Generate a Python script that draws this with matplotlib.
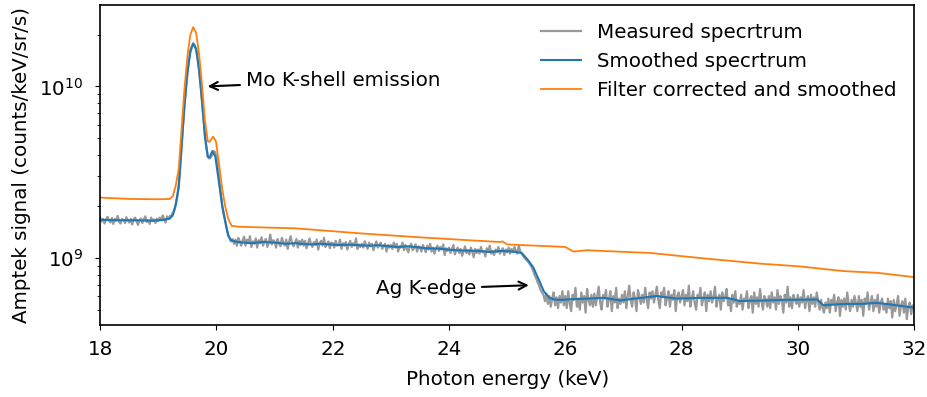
import numpy as np
import matplotlib
matplotlib.use("Agg")
import matplotlib.pyplot as plt

# measured spectrum, 0.025 keV bins starting at 18 keV
# units of 1e8 counts/keV/sr/s, one row = 0.5 keV
measured = [
    17.2, 16.3, 16.9, 15.9, 16.8, 17.4, 16.5, 16.1, 17.1, 15.8, 16.9, 16.5, 17.6, 16.3, 15.9, 16.9, 16.7, 16.0, 17.3, 16.5,
    16.1, 16.9, 15.7, 16.8, 17.2, 16.4, 15.6, 16.6, 17.0, 16.0, 16.8, 17.5, 16.2, 16.6, 15.8, 17.2, 16.4, 16.8, 16.0, 17.0,
    16.4, 17.2, 16.6, 17.7, 16.9, 16.1, 17.5, 16.9, 17.6, 17.6, 18.4, 19.0, 20.6, 22.8, 26.2, 33, 45, 60, 78, 98,
    120, 141, 160, 172, 178, 174, 165, 147, 125, 104, 83, 66, 52, 44, 39, 38, 38.5, 40, 42, 41.5,
    39, 34, 28, 23.5, 20, 18, 16.4, 14.8, 13.6, 13.0, 12.5, 12.9, 12.1, 12.8, 11.8, 13.1, 12.5, 11.8, 12.7, 13.3,
    11.8, 12.8, 12.2, 13.4, 11.6, 12.5, 12.1, 13.0, 11.5, 12.7, 12.2, 13.2, 11.8, 12.5, 12.9, 11.6, 12.3, 13.7, 12.0, 12.7,
    12.5, 11.5, 12.9, 12.2, 11.7, 13.1, 12.3, 11.8, 12.8, 11.3, 12.5, 13.4, 12.2, 11.7, 12.3, 12.9, 11.5, 12.6, 11.9, 12.8,
    11.8, 12.6, 11.4, 12.2, 13.0, 12.1, 11.6, 12.4, 11.9, 12.8, 11.2, 12.2, 12.6, 11.8, 13.1, 11.6, 12.0, 12.5, 11.4, 12.3,
    12.2, 11.5, 12.6, 11.8, 11.9, 12.8, 11.3, 12.2, 11.8, 12.4, 11.2, 12.0, 12.6, 11.6, 12.2, 11.8, 13.0, 11.3, 12.0, 11.6,
    12.1, 11.5, 12.5, 11.9, 11.3, 12.3, 11.7, 12.1, 11.1, 11.9, 12.5, 11.5, 11.9, 12.3, 11.3, 11.7, 12.1, 10.9, 11.9, 11.5,
    11.9, 11.3, 12.3, 11.5, 12.1, 10.9, 11.7, 11.5, 12.3, 11.1, 11.9, 11.3, 10.8, 11.7, 12.1, 11.1, 11.5, 12.0, 10.9, 11.7,
    11.6, 10.9, 11.9, 11.4, 10.8, 11.8, 11.2, 12.1, 10.9, 11.5, 10.6, 11.4, 11.8, 11.0, 11.6, 11.2, 12.0, 10.4, 11.4, 11.0,
    11.5, 10.7, 11.3, 11.9, 10.5, 11.1, 11.5, 10.7, 11.3, 10.3, 10.9, 11.7, 10.7, 11.1, 10.5, 11.5, 10.9, 10.1, 11.3, 10.7,
    11.2, 10.6, 11.6, 10.8, 11.0, 10.2, 11.4, 10.8, 11.8, 10.6, 11.0, 10.4, 11.2, 10.8, 11.6, 10.6, 11.0, 11.4, 10.4, 11.2,
    10.8, 11.5, 10.6, 11.3, 10.8, 11.6, 11.0, 10.6, 11.8, 10.9, 10.6, 10.3, 10.0, 9.8, 9.6, 9.4, 9.1, 8.8, 8.4, 7.9,
    7.6, 7.2, 6.9, 6.5, 6.3, 6.1, 5.6, 6.2, 5.4, 6.0, 5.2, 5.8, 6.3, 5.3, 5.9, 5.1, 6.0, 5.5, 6.4, 5.3,
    6.0, 5.1, 6.4, 5.5, 4.9, 6.1, 5.7, 6.7, 5.2, 5.8, 5.0, 6.3, 5.5, 6.0, 4.8, 6.6, 5.7, 5.3, 6.1, 5.2,
    6.2, 5.3, 6.0, 6.8, 5.5, 5.0, 6.1, 5.8, 6.5, 5.2, 5.7, 6.4, 4.9, 6.0, 5.5, 6.7, 5.1, 5.8, 5.4, 6.1,
    5.5, 6.4, 5.1, 6.0, 6.9, 5.7, 5.2, 6.3, 5.8, 4.9, 6.5, 6.0, 5.4, 6.1, 5.5, 6.7, 5.7, 5.1, 6.3, 5.8,
    6.4, 5.5, 6.1, 6.8, 5.7, 5.1, 6.3, 5.9, 6.7, 5.3, 5.8, 6.4, 5.2, 6.1, 5.7, 6.5, 4.9, 6.0, 6.3, 5.5,
    6.0, 6.5, 5.3, 6.1, 5.6, 6.9, 5.2, 5.8, 6.4, 5.5, 5.0, 6.1, 5.9, 6.7, 5.3, 5.8, 6.3, 4.9, 6.1, 5.6,
    6.4, 5.5, 5.9, 6.8, 5.2, 5.8, 6.1, 5.0, 6.3, 5.6, 5.9, 6.6, 5.3, 5.8, 4.9, 6.1, 5.5, 6.4, 5.2, 5.6,
    5.4, 6.1, 5.0, 5.8, 5.6, 6.4, 5.1, 5.7, 6.0, 4.8, 6.3, 5.4, 5.9, 5.2, 6.6, 5.6, 5.0, 6.0, 5.7, 5.2,
    6.0, 5.1, 6.3, 5.5, 5.9, 5.0, 6.5, 5.4, 6.0, 5.7, 4.8, 6.1, 5.5, 6.8, 5.2, 5.9, 5.1, 6.1, 5.7, 5.4,
    6.1, 5.2, 5.9, 5.5, 6.5, 5.1, 5.7, 6.0, 4.9, 6.1, 5.4, 5.9, 5.2, 6.3, 5.6, 5.0, 5.7, 5.1, 4.8, 5.5,
    5.1, 5.8, 4.8, 5.7, 5.4, 6.1, 4.9, 5.5, 5.9, 4.6, 5.7, 5.2, 5.8, 5.0, 6.3, 5.4, 4.9, 5.7, 5.2, 6.0,
    5.5, 4.9, 6.0, 5.2, 5.7, 4.6, 5.8, 5.4, 6.3, 5.0, 5.5, 6.0, 4.9, 5.7, 5.2, 6.1, 4.8, 5.5, 5.8, 5.0,
    5.4, 4.8, 5.8, 5.1, 5.6, 4.5, 5.7, 4.9, 5.4, 6.0, 4.6, 5.3, 5.6, 4.8, 5.8, 4.4, 5.2, 5.5, 4.7, 5.3,
    5.0,
]
measured_e = 18 + 0.025 * np.arange(len(measured))

smooth_e = [18.0, 18.3, 18.6, 18.9, 19.1, 19.2, 19.25, 19.3, 19.35, 19.4,
            19.45, 19.5, 19.55, 19.6, 19.65, 19.7, 19.75, 19.8, 19.85, 19.88,
            19.93, 19.98, 20.04, 20.1, 20.15, 20.2, 20.25, 20.35, 20.6, 20.8,
            21.0, 21.2, 21.35, 21.6, 21.8, 22.1, 22.3, 22.6, 22.8, 23.1,
            23.3, 23.6, 23.8, 24.1, 24.3, 24.5, 24.7, 24.9, 25.1, 25.25,
            25.35, 25.45, 25.55, 25.63, 25.72, 25.8, 25.95, 26.1, 26.4, 26.66,
            26.94, 27.2, 27.57, 27.92, 28.3, 28.78, 29.01, 29.4, 29.8, 30.33,
            30.44, 30.8, 31.1, 31.36, 31.6, 32.0]
smooth_v = [16.7, 16.6, 16.6, 16.5, 16.7, 17.0, 17.8, 20.5, 26, 45,
            78, 120, 160, 178, 165, 125, 83, 52, 39, 38.5,
            42, 39, 28, 20, 16.4, 13.6, 12.7, 12.4, 12.2, 12.4,
            12.3, 12.1, 12.2, 12.0, 12.1, 11.9, 11.95, 11.8, 11.85, 11.6,
            11.7, 11.4, 11.35, 11.1, 11.05, 11.0, 10.85, 11.0, 10.9, 10.7,
            9.8, 8.8, 7.4, 6.4, 5.9, 5.73, 5.7, 5.75, 5.8, 5.86,
            5.66, 5.8, 6.0, 5.8, 5.85, 5.86, 5.61, 5.65, 5.7, 5.73,
            5.3, 5.4, 5.4, 5.48, 5.35, 5.13]

corr_e = [18.0, 18.5, 19.0, 19.2, 19.25, 19.3, 19.35, 19.4, 19.45, 19.5,
          19.55, 19.6, 19.65, 19.7, 19.75, 19.8, 19.85, 19.88, 19.94, 19.99,
          20.05, 20.1, 20.15, 20.2, 20.26, 20.4, 21.35, 22.5, 23.5, 24.5,
          24.88, 24.92, 25.0, 26.0, 26.14, 26.37, 26.9, 27.46, 28.32, 29.35,
          30.04, 30.78, 31.36, 32.0]
corr_v = [22.5, 22.1, 22.0, 22.1, 23, 26.5, 33, 57, 98, 150,
          200, 222, 205, 155, 103, 64, 48, 47.5, 51, 48,
          34, 25, 20, 17, 15.4, 15.2, 14.9, 13.9, 13.2, 12.6,
          12.4, 12.5, 12.0, 11.6, 10.9, 11.1, 10.9, 10.7, 10.0, 9.27,
          8.93, 8.39, 8.2, 7.74]

scale = 1e8
fs = 14.3

fig, ax = plt.subplots(figsize=(9.28, 3.97), dpi=100)
fig.subplots_adjust(left=0.108, right=0.985, bottom=0.181, top=0.987)

ax.plot(measured_e, np.array(measured) * scale, color="#999999", lw=1.6,
        label="Measured specrtrum")
ax.plot(smooth_e, np.array(smooth_v) * scale, color="C0", lw=1.5,
        label="Smoothed specrtrum")
ax.plot(corr_e, np.array(corr_v) * scale, color="C1", lw=1.3,
        label="Filter corrected and smoothed")

ax.set_yscale("log")
ax.set_xlim(18, 32)
ax.set_ylim(4.06e8, 2.98e10)
ax.set_xticks(range(18, 33, 2))
ax.tick_params(labelsize=fs)
ax.tick_params(axis="x", pad=7)
ax.tick_params(axis="y", pad=8.5)
ax.set_xlabel("Photon energy (keV)", fontsize=fs, labelpad=8)
ax.set_ylabel("Amptek signal (counts/keV/sr/s)", fontsize=fs, labelpad=6)
for s in ax.spines.values():
    s.set_linewidth(1.2)

ax.annotate("Mo K-shell emission", xy=(19.8, 1.0e10), xytext=(20.5, 1.08e10),
            fontsize=fs, va="center",
            arrowprops=dict(arrowstyle="->", color="black", lw=1.5))
ax.annotate("Ag K-edge", xy=(25.42, 6.95e8), xytext=(24.47, 6.6e8),
            fontsize=fs, va="center", ha="right",
            arrowprops=dict(arrowstyle="->", color="black", lw=1.5))

ax.legend(loc="upper right", frameon=False, fontsize=fs, handlelength=2.0)

fig.savefig("out.png", dpi=100)
